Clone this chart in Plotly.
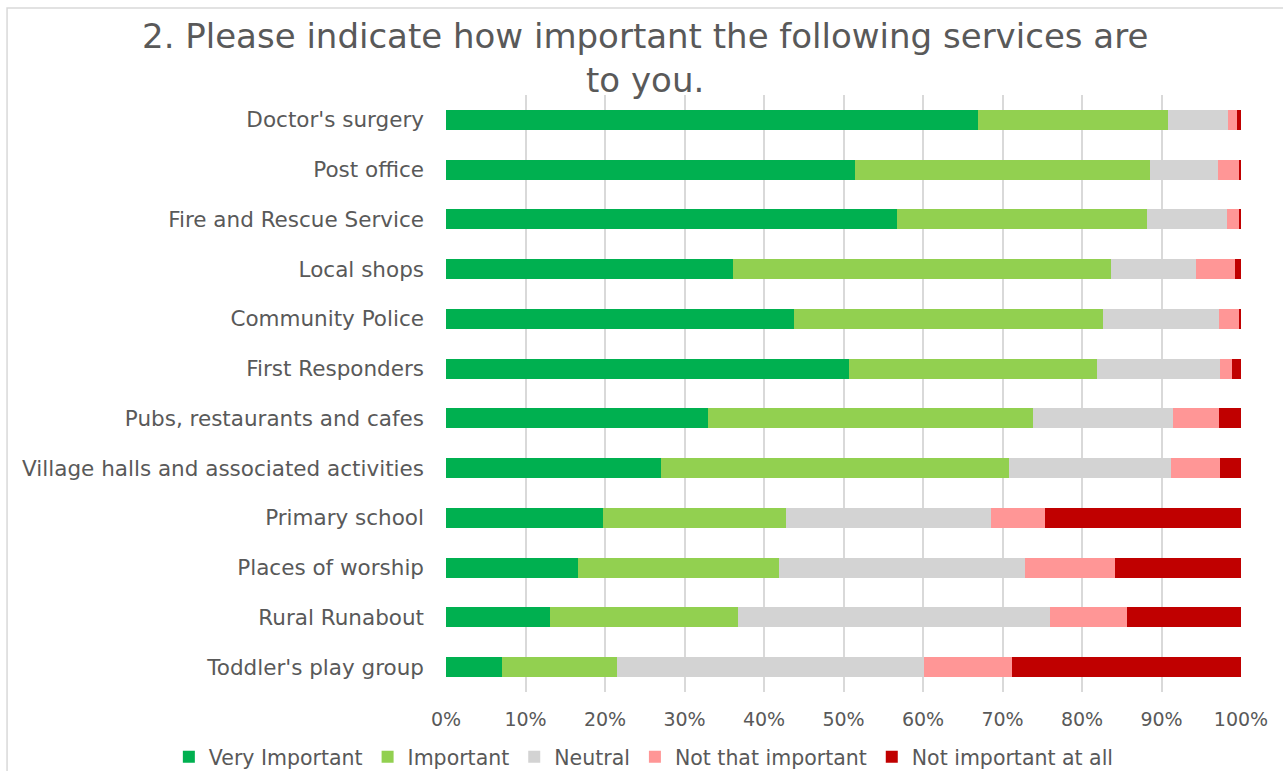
import plotly.graph_objects as go

# Services, listed top to bottom
services = [
    "Doctor's surgery",
    "Post office",
    "Fire and Rescue Service",
    "Local shops",
    "Community Police",
    "First Responders",
    "Pubs, restaurants and cafes",
    "Village halls and associated activities",
    "Primary school",
    "Places of worship",
    "Rural Runabout",
    "Toddler's play group",
]

# Share of responses (%) per rating, same order as services
very_important = [66.9, 51.4, 56.7, 36.1, 43.8, 50.7, 33.0, 27.1, 19.7, 16.6, 13.1, 7.0]
important = [23.9, 37.2, 31.5, 47.5, 38.9, 31.2, 40.8, 43.7, 23.1, 25.3, 23.6, 14.5]
neutral = [7.6, 8.5, 10.1, 10.8, 14.5, 15.5, 17.6, 20.4, 25.7, 30.9, 39.3, 38.6]
not_that_important = [1.1, 2.7, 1.5, 4.9, 2.5, 1.5, 5.8, 6.2, 6.9, 11.4, 9.6, 11.1]
not_important_at_all = [0.5, 0.2, 0.2, 0.7, 0.3, 1.1, 2.8, 2.6, 24.6, 15.8, 14.4, 28.8]

tick_values = [0, 10, 20, 30, 40, 50, 60, 70, 80, 90, 100]
tick_labels = ["0%", "10%", "20%", "30%", "40%", "50%", "60%", "70%", "80%", "90%", "100%"]

ratings = [
    ("Very Important", very_important, "#00B050"),
    ("Important", important, "#92D050"),
    ("Neutral", neutral, "#D3D3D3"),
    ("Not that important", not_that_important, "#FF9696"),
    ("Not important at all", not_important_at_all, "#C00000"),
]

TEXT = "#595959"
FONT = "DejaVu Sans"

# Plot area in pixels
W, H = 1283, 771
PL, PR, PT, PB = 445.5, 1241.5, 95, 692


def px_x(x):
    return (x - PL) / (PR - PL)


def px_y(y):
    return (PB - y) / (PB - PT)


fig = go.Figure()
for name, values, colour in ratings:
    fig.add_trace(go.Bar(
        y=services,
        x=values,
        name=name,
        orientation="h",
        marker=dict(color=colour, line=dict(width=0)),
    ))

fig.update_layout(
    barmode="stack",
    bargap=0.6,
    width=W,
    height=H,
    margin=dict(l=PL, r=W - PR, t=PT, b=H - PB, autoexpand=False),
    paper_bgcolor="white",
    plot_bgcolor="white",
    font=dict(family=FONT, color=TEXT, size=20),
    xaxis=dict(
        range=[0, 100],
        tickvals=tick_values,
        ticktext=tick_labels,
        showgrid=True,
        gridcolor="#D9D9D9",
        gridwidth=2,
        zeroline=False,
        showline=False,
        ticks="",
        ticklabelstandoff=14,
        tickfont=dict(size=19, color=TEXT),
        fixedrange=True,
    ),
    yaxis=dict(
        categoryorder="array",
        categoryarray=services[::-1],
        showgrid=False,
        zeroline=False,
        showline=False,
        ticks="",
        ticklabelstandoff=21,
        tickfont=dict(size=21.5, color=TEXT),
        fixedrange=True,
    ),
    legend=dict(
        orientation="h",
        x=px_x(168),
        xanchor="left",
        y=px_y(757),
        yanchor="middle",
        font=dict(size=20.5, color=TEXT),
        traceorder="normal",
        itemwidth=30,
        bgcolor="rgba(0,0,0,0)",
    ),
    annotations=[
        dict(
            text="2. Please indicate how important the following services are<br>to you.",
            xref="paper",
            yref="paper",
            x=px_x(645),
            y=px_y(58),
            xanchor="center",
            yanchor="middle",
            showarrow=False,
            font=dict(family=FONT, size=34, color=TEXT),
        )
    ],
    shapes=[
        dict(
            type="rect",
            xref="paper",
            yref="paper",
            x0=px_x(6),
            x1=px_x(1300),
            y0=px_y(800),
            y1=px_y(8),
            line=dict(color="#D9D9D9", width=1.5),
            fillcolor="rgba(0,0,0,0)",
            layer="below",
        )
    ],
)

fig.write_html("out.html")
